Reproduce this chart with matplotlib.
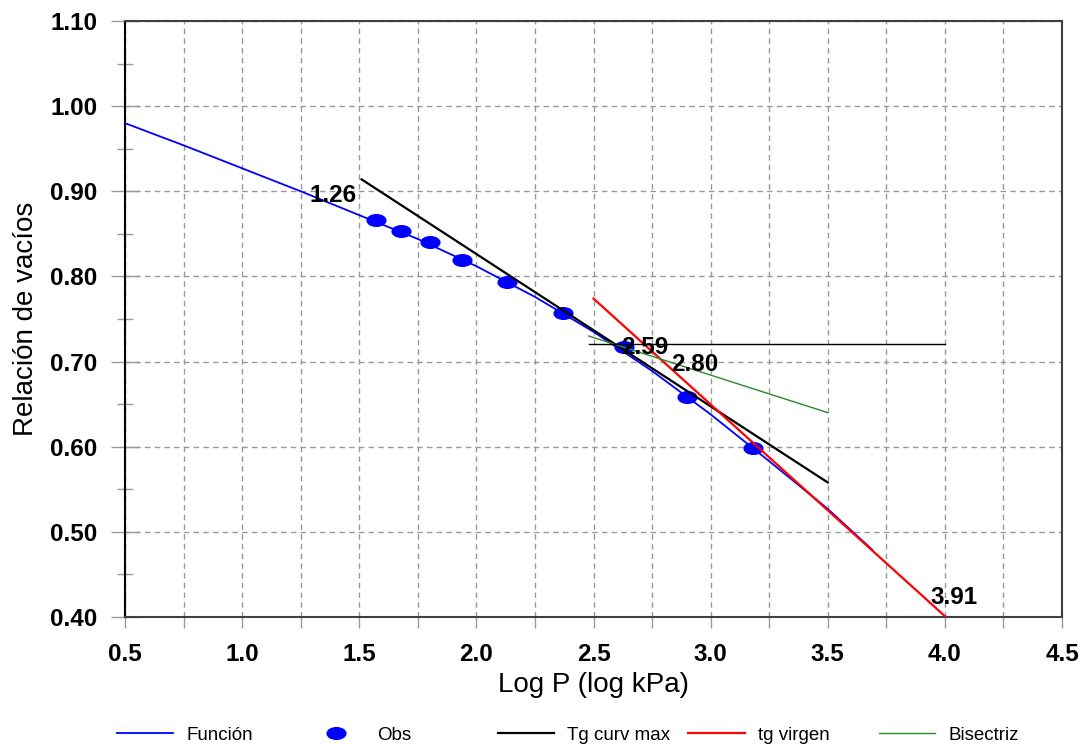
import matplotlib.pyplot as plt
import numpy as np
from matplotlib.path import Path
from matplotlib.ticker import MultipleLocator, FormatStrFormatter

plt.rcParams['font.family'] = ['Liberation Sans', 'DejaVu Sans']

# curva ajustada (funcion)
func_x = [0.5, 0.75, 1.0, 1.25, 1.5, 1.75, 2.0, 2.25, 2.5, 2.75, 3.0, 3.25, 3.5, 3.69]
func_y = [0.980, 0.954, 0.927, 0.900, 0.872, 0.844, 0.812, 0.776, 0.735, 0.689, 0.638, 0.583, 0.527, 0.479]

# puntos observados
obs_x = [1.57, 1.68, 1.80, 1.94, 2.13, 2.37, 2.63, 2.90, 3.18]
obs_y = [0.866, 0.853, 0.840, 0.819, 0.793, 0.757, 0.717, 0.658, 0.598]

# rectas de construccion (Casagrande)
tg_max_x = [1.51, 3.50]
tg_max_y = [0.914, 0.558]
tg_virgen_x = [2.50, 4.00]
tg_virgen_y = [0.774, 0.401]
horiz_x = [2.48, 4.00]
horiz_y = [0.721, 0.721]
bisec_x = [2.48, 3.50]
bisec_y = [0.730, 0.640]

# valores marcados
marks = [1.26, 2.59, 2.80, 3.91]
marks_y = [0.898, 0.720, 0.700, 0.426]

labels = ["Función", "Obs", "Tg curv max", "tg virgen", "Bisectriz"]

W, H = 1081, 749
fig = plt.figure(figsize=(W / 100, H / 100), dpi=100)
ax = fig.add_axes([125 / W, 1 - 617 / H, (1062 - 125) / W, (617 - 21) / H])

circ = Path.unit_circle()
ellipse = Path(circ.vertices * [1.0, 0.62], circ.codes)

l1, = ax.plot(func_x, func_y, color='#0000ff', lw=1.3, zorder=3)
l2, = ax.plot(obs_x, obs_y, ls='none', marker=ellipse, ms=13.5, color='#0000ff', zorder=4)
l3, = ax.plot(tg_max_x, tg_max_y, color='black', lw=1.6, zorder=5)
l4, = ax.plot(tg_virgen_x, tg_virgen_y, color='#ff0000', lw=1.6, zorder=5)
l5, = ax.plot(bisec_x, bisec_y, color='#2a8a2a', lw=1.0, zorder=5)
ax.plot(horiz_x, horiz_y, color='black', lw=1.0, zorder=5)

for v, y in zip(marks, marks_y):
    ax.annotate(f'{v:.2f}', (v, y), xytext=(5, -2), textcoords='offset points',
                ha='left', va='center', fontsize=17.5, fontweight='bold', zorder=6)

ax.set_xlim(0.5, 4.5)
ax.set_ylim(0.40, 1.10)
ax.xaxis.set_major_locator(MultipleLocator(0.5))
ax.xaxis.set_minor_locator(MultipleLocator(0.25))
ax.yaxis.set_major_locator(MultipleLocator(0.1))
ax.yaxis.set_minor_locator(MultipleLocator(0.05))
ax.xaxis.set_major_formatter(FormatStrFormatter('%.1f'))
ax.yaxis.set_major_formatter(FormatStrFormatter('%.2f'))

grid_kw = dict(color='#999999', lw=1, ls=(0, (4, 3)))
ax.grid(which='major', axis='both', **grid_kw)
ax.grid(which='minor', axis='x', **grid_kw)

ax.tick_params(axis='y', which='major', direction='inout', length=20, width=1,
               color='#999999', pad=10, labelsize=17.5)
ax.tick_params(axis='y', which='minor', direction='inout', length=11.5, width=1,
               color='#999999')
ax.tick_params(axis='x', which='both', direction='out', length=8, width=1,
               color='#999999', pad=11, labelsize=17.5)
for lab in ax.get_xticklabels() + ax.get_yticklabels():
    lab.set_fontweight('bold')

for s in ax.spines.values():
    s.set_color('#404040')
    s.set_linewidth(1.5)
ax.spines['left'].set_color('black')

ax.set_xlabel('Log P (log kPa)', fontsize=20)
ax.xaxis.set_label_coords(0.5, -0.092)
ax.set_ylabel('Relación de vacíos', fontsize=20)
ax.yaxis.set_label_coords(-0.092, 0.5)

handles = [l1, l2, l3, l4, l5]
for i, (h, lab) in enumerate(zip(handles, labels)):
    fig.legend([h], [lab], loc='center left', bbox_to_anchor=((117 + i * 190.5) / W, 0.0187),
               frameon=False, borderpad=0, borderaxespad=0, fontsize=13.5,
               handlelength=3.0, handletextpad=0.7, numpoints=1)

fig.savefig('out.png', dpi=100)
